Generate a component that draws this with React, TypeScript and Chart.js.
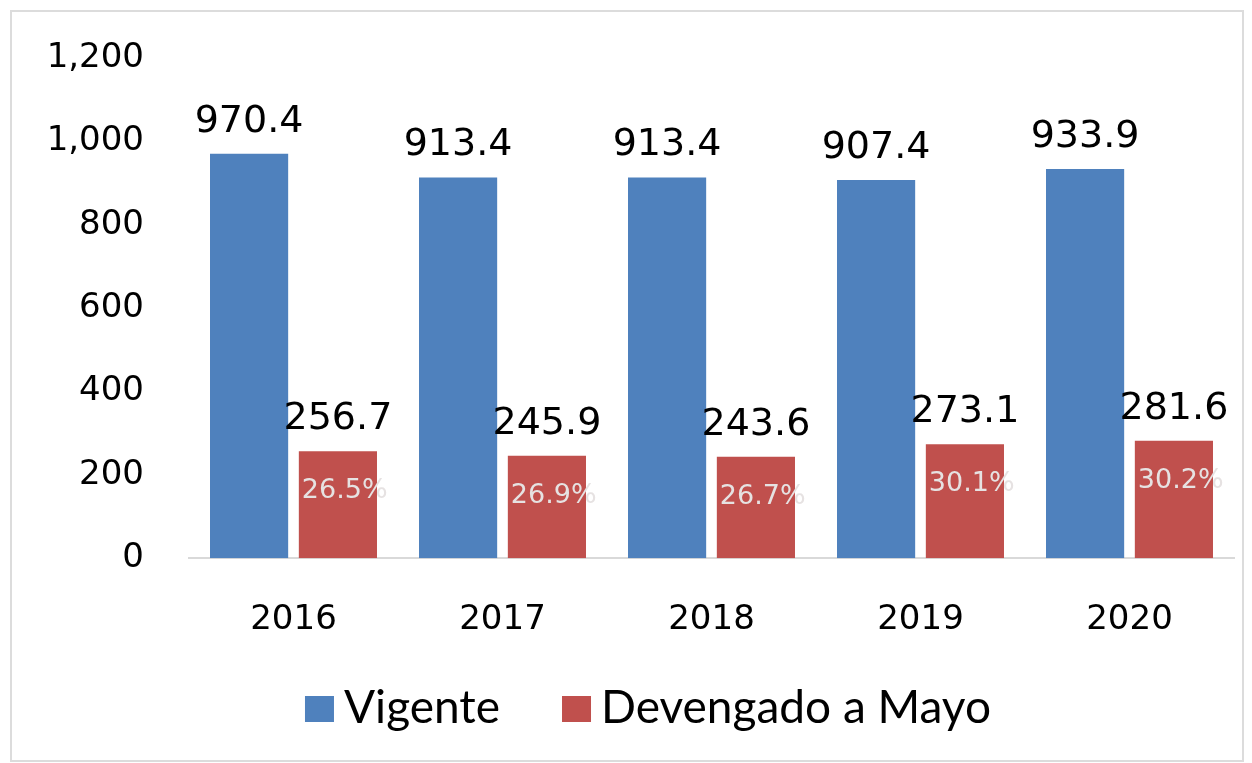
import React, { useEffect, useRef } from "react";
import { Chart, registerables } from "chart.js";

Chart.register(...registerables);

const categories = ["2016", "2017", "2018", "2019", "2020"];
const vigente = [970.4, 913.4, 913.4, 907.4, 933.9];
const devengado = [256.7, 245.9, 243.6, 273.1, 281.6];
const percentLabels = ["26.5%", "26.9%", "26.7%", "30.1%", "30.2%"];
const yTicks = [0, 200, 400, 600, 800, 1000, 1200];
const seriesNames = ["Vigente", "Devengado a Mayo"];
const seriesColors = ["#4f81bd", "#c0504d"];

const NUM_FONT = "'DejaVu Sans', sans-serif";
const TXT_FONT = "Lato, 'Open Sans', sans-serif";

const labelPlugin = {
  id: "barLabels",
  afterDatasetsDraw(chart: any) {
    const ctx = chart.ctx;
    ctx.save();
    chart.data.datasets.forEach((ds: any, di: number) => {
      const meta = chart.getDatasetMeta(di);
      meta.data.forEach((bar: any, i: number) => {
        const v = ds.data[i];
        ctx.fillStyle = "#000000";
        ctx.font = `38px ${NUM_FONT}`;
        ctx.textAlign = "center";
        ctx.textBaseline = "alphabetic";
        ctx.fillText(v.toFixed(1), bar.x, bar.y - 22);
        if (di === 1) {
          ctx.font = `27px ${NUM_FONT}`;
          ctx.fillStyle = "#e6e2e2";
          ctx.textAlign = "left";
          ctx.textBaseline = "middle";
          const left = bar.x - bar.width / 2;
          ctx.fillText(percentLabels[i], left + 3, bar.y + 40);
        }
      });
    });
    ctx.restore();
  },
};

const legendPlugin = {
  id: "customLegend",
  afterDraw(chart: any) {
    const ctx = chart.ctx;
    ctx.save();
    ctx.font = `46px ${TXT_FONT}`;
    const boxW = 29;
    const boxH = 26;
    const boxGap = 10;
    const itemGap = 62;
    const widths = seriesNames.map((n) => ctx.measureText(n).width);
    const total =
      widths.reduce((a, b) => a + b, 0) + seriesNames.length * (boxW + boxGap) + itemGap * (seriesNames.length - 1);
    let x = 648 - total / 2;
    const baseline = 723;
    seriesNames.forEach((n, i) => {
      ctx.fillStyle = seriesColors[i];
      ctx.fillRect(x, 696, boxW, boxH);
      x += boxW + boxGap;
      ctx.fillStyle = "#000000";
      ctx.textAlign = "left";
      ctx.textBaseline = "alphabetic";
      ctx.fillText(n, x, baseline);
      x += widths[i] + itemGap;
    });
    ctx.restore();
  },
};

export default function App() {
  const ref = useRef<HTMLCanvasElement>(null);
  useEffect(() => {
    document.body.style.margin = "0";
    const chart = new Chart(ref.current!, {
      type: "bar",
      data: {
        labels: categories,
        datasets: [
          { label: seriesNames[0], data: vigente, backgroundColor: seriesColors[0] },
          { label: seriesNames[1], data: devengado, backgroundColor: seriesColors[1] },
        ],
      },
      options: {
        animation: false,
        responsive: false,
        devicePixelRatio: 1,
        layout: { padding: { top: 58, right: 18, left: 0, bottom: 80 } },
        datasets: { bar: { categoryPercentage: 0.85, barPercentage: 0.88 } },
        plugins: {
          legend: { display: false },
          tooltip: { enabled: false },
        },
        scales: {
          x: {
            grid: { display: false, drawTicks: false },
            border: { display: true, color: "#d9d9d9", width: 2 },
            ticks: { font: { family: NUM_FONT, size: 34 }, color: "#000000", padding: 42 },
          },
          y: {
            min: 0,
            max: 1200,
            grid: { display: false, drawTicks: false },
            border: { display: false },
            afterBuildTicks: (scale: any) => {
              scale.ticks = yTicks.map((v) => ({ value: v }));
            },
            afterFit: (scale: any) => {
              scale.width = 189;
              scale.paddingTop = 0;
              scale.paddingBottom = 0;
            },
            ticks: {
              font: { family: NUM_FONT, size: 34 },
              color: "#000000",
              padding: 45,
              callback: (v: any) => Number(v).toLocaleString("en-US"),
            },
          },
        },
      },
      plugins: [labelPlugin, legendPlugin],
    });
    return () => chart.destroy();
  }, []);
  return (
    <div style={{ position: "relative", width: 1252, height: 763, background: "#fff" }}>
      <div
        style={{
          position: "absolute",
          left: 10,
          top: 10,
          width: 1234,
          height: 752,
          border: "2px solid #dcdcdc",
          boxSizing: "border-box",
        }}
      />
      <canvas ref={ref} width={1252} height={763} style={{ position: "absolute", left: 0, top: 0 }} />
    </div>
  );
}
